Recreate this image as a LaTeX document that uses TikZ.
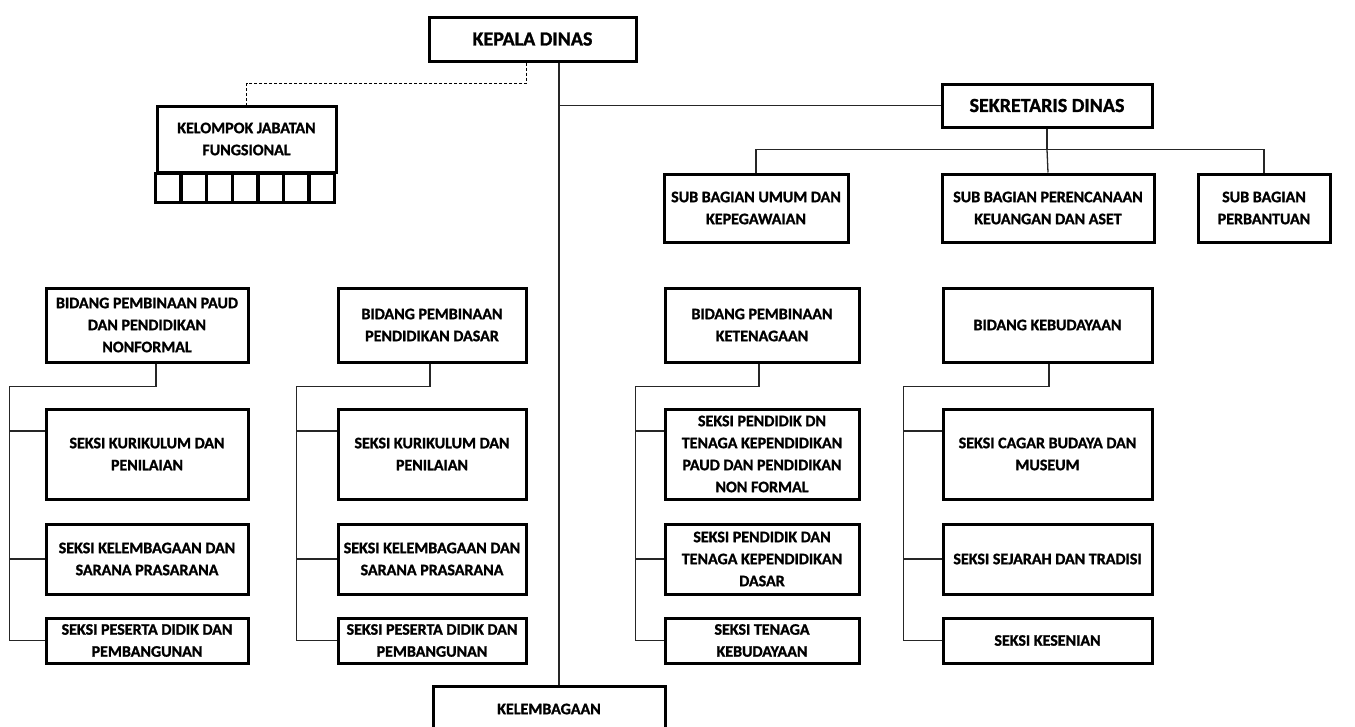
\documentclass[tikz,border=0pt]{standalone}
\usepackage{fontspec}
\setmainfont{Carlito}[BoldFeatures={FakeBold=1.3}]
\usepackage{tikz}
\usetikzlibrary{calc}

\begin{document}
\begin{tikzpicture}[x=1pt, y=-1pt,
		box/.style={draw=black, line width=3pt, align=center, inner sep=2pt,
			font=\bfseries\fontsize{16}{22}\selectfont},
		bigbox/.style={box, font=\bfseries\fontsize{20}{24}\selectfont},
		link/.style={line width=1.3pt, color=black!85},
		dashlink/.style={line width=1pt, dash pattern=on 3pt off 2pt}]
		%%%%% START %%%%%
		
		\useasboundingbox (0, 0) rectangle (1355, 726);
		\clip (0, 0) rectangle (1355, 726);
		
		\node[bigbox, minimum width=207pt, minimum height=44pt] (kadis) at (532.5, 39) {KEPALA DINAS};
		\node[bigbox, minimum width=210pt, minimum height=43pt] (sekdis) at (1047, 105.5) {SEKRETARIS DINAS};
		\node[box, minimum width=232pt, minimum height=46pt] (lemb) at (549, 709) {KELEMBAGAAN};
		
		\node[box, minimum width=179pt, minimum height=66pt] (kjf) at (246.5, 139) {KELOMPOK JABATAN\\FUNGSIONAL};
		\foreach \i in {0,...,6}
			\draw[line width=3.4pt] ($(kjf.south west)+(\i*25.6,0)$) rectangle ++(25.6,29);
		
		\node[box, minimum width=184pt, minimum height=68pt] (subumum) at (756, 208) {SUB BAGIAN UMUM DAN\\KEPEGAWAIAN};
		\node[box, minimum width=212pt, minimum height=68pt] (subren) at (1048, 208) {SUB BAGIAN PERENCANAAN\\KEUANGAN DAN ASET};
		\node[box, minimum width=132pt, minimum height=68pt] (subbantu) at (1264, 208) {SUB BAGIAN\\PERBANTUAN};
		
		\node[box, minimum width=202pt, minimum height=74pt] (b1) at (147, 325) {BIDANG PEMBINAAN PAUD\\DAN PENDIDIKAN\\NONFORMAL};
		\node[box, minimum width=188pt, minimum height=74pt] (b2) at (432, 325) {BIDANG PEMBINAAN\\PENDIDIKAN DASAR};
		\node[box, minimum width=194pt, minimum height=74pt] (b3) at (762, 325) {BIDANG PEMBINAAN\\KETENAGAAN};
		\node[box, minimum width=209pt, minimum height=74pt] (b4) at (1047.5, 325) {BIDANG KEBUDAYAAN};
		
		\node[box, minimum width=202pt, minimum height=90pt] (s11) at (147, 454) {SEKSI KURIKULUM DAN\\PENILAIAN};
		\node[box, minimum width=202pt, minimum height=70pt] (s12) at (147, 559) {SEKSI KELEMBAGAAN DAN\\SARANA PRASARANA};
		\node[box, minimum width=202pt, minimum height=45pt] (s13) at (147, 640.5) {SEKSI PESERTA DIDIK DAN\\PEMBANGUNAN};
		
		\node[box, minimum width=188pt, minimum height=90pt] (s21) at (432, 454) {SEKSI KURIKULUM DAN\\PENILAIAN};
		\node[box, minimum width=188pt, minimum height=70pt] (s22) at (432, 559) {SEKSI KELEMBAGAAN DAN\\SARANA PRASARANA};
		\node[box, minimum width=188pt, minimum height=45pt] (s23) at (432, 640.5) {SEKSI PESERTA DIDIK DAN\\PEMBANGUNAN};
		
		\node[box, minimum width=194pt, minimum height=90pt] (s31) at (762, 454) {SEKSI PENDIDIK DN\\TENAGA KEPENDIDIKAN\\PAUD DAN PENDIDIKAN\\NON FORMAL};
		\node[box, minimum width=194pt, minimum height=70pt] (s32) at (762, 559) {SEKSI PENDIDIK DAN\\TENAGA KEPENDIDIKAN\\DASAR};
		\node[box, minimum width=194pt, minimum height=45pt] (s33) at (762, 640.5) {SEKSI TENAGA\\KEBUDAYAAN};
		
		\node[box, minimum width=209pt, minimum height=90pt] (s41) at (1047.5, 454) {SEKSI CAGAR BUDAYA DAN\\MUSEUM};
		\node[box, minimum width=209pt, minimum height=70pt] (s42) at (1047.5, 559) {SEKSI SEJARAH DAN TRADISI};
		\node[box, minimum width=209pt, minimum height=45pt] (s43) at (1047.5, 640.5) {SEKSI KESENIAN};
		
		% garis komando
		\coordinate (spine) at (559, 0);
		\draw[link] (kadis.south -| spine) -- (lemb.north -| spine);
		\draw[link] (sekdis.west) -- (sekdis.west -| spine);
		\draw[dashlink] ([xshift=-6.5pt]kadis.south) -- ++(0, 21) -| (kjf.north);
		
		\draw[link] (sekdis.south) -- ++(0, 21) coordinate (sbus);
		\draw[link] (subumum.north) |- (sbus) -| (subbantu.north);
		\draw[link] (sbus) -- (subren.north);
		
		\foreach \c/\gap/\dx in {1/35/9, 2/40/-2, 3/28/-3, 4/38/1.5} {
			\draw[link] ([xshift=\dx pt]b\c.south) -- ++(0, 23) -| ([xshift=-\gap pt]s\c3.west) -- (s\c3.west);
			\draw[link] ([yshift=23pt]s\c1.west) -- ++(-\gap, 0);
			\draw[link] (s\c2.west) -- ++(-\gap, 0);
		}
		
		%%%%% END %%%%%
	\end{tikzpicture}
\end{document}
